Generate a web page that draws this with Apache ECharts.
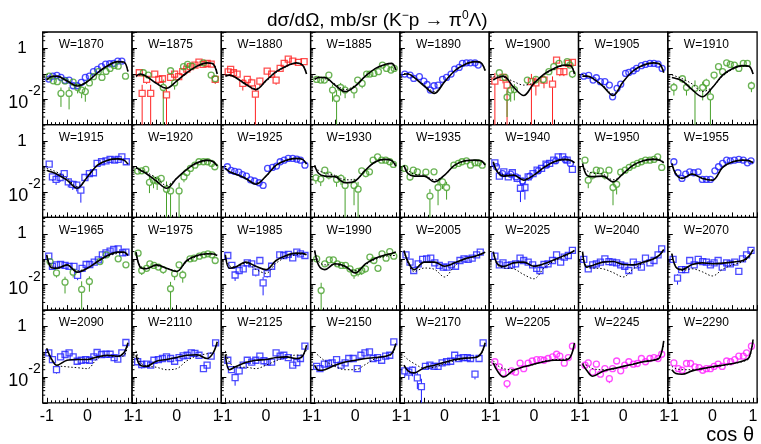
<!DOCTYPE html>
<html>
<head>
<meta charset="utf-8">
<script src="https://cdn.jsdelivr.net/npm/echarts/dist/echarts.min.js"></script>
<style>
  html, body { margin: 0; padding: 0; background: #fff; }
  #chart { width: 761px; height: 444px; }
</style>
</head>
<body>
<div id="chart"></div>
<script>
// ---------- data: [cos theta, dsigma/dOmega (mb/sr), error] ----------
// beam energies W (MeV), one per panel, row by row
const panelW = [1870, 1875, 1880, 1885, 1890, 1900, 1905, 1910,
                1915, 1920, 1925, 1930, 1935, 1940, 1950, 1955,
                1965, 1975, 1985, 1990, 2005, 2025, 2040, 2070,
                2090, 2110, 2125, 2150, 2170, 2205, 2245, 2290];

// cos theta nodes at which both model curves are tabulated
const curveCos = [-1, -0.9, -0.75, -0.5, -0.25, 0, 0.25, 0.5, 0.75, 0.9, 1];

// axis tick labels
const yTickLabels = { one: '1', base: '10', exp: '-2' };
const xTickLabels = ['-1', '0', '1'];

// ---- W = 1870 ----
const w1870blue = [[-0.95,0.062],[-0.85,0.081],[-0.75,0.087],[-0.65,0.072],[-0.55,0.055],[-0.45,0.057],[-0.35,0.034],[-0.25,0.034],[-0.15,0.046],[-0.05,0.072],[0.05,0.081],[0.15,0.121],[0.25,0.149],[0.35,0.19],[0.45,0.241],[0.55,0.249],[0.65,0.257],[0.75,0.317],[0.85,0.317]];
const w1870green = [[-0.94,0.081,0.01],[-0.84,0.053,0.012],[-0.74,0.049,0.012],[-0.65,0.017,0.012],[-0.55,0.052,0.012],[-0.45,0.017,0.013],[-0.35,0.047,0.012],[-0.24,0.029,0.012],[-0.14,0.023,0.012],[-0.05,0.02,0.012],[0.05,0.044,0.01],[0.15,0.077,0.012],[0.27,0.121,0.015],[0.36,0.072,0.015],[0.46,0.124,0.015],[0.56,0.163,0.02],[0.66,0.214,0.02],[0.76,0.2,0.02],[0.94,0.081,0.015]];
const fit1870 = [0.057,0.077,0.081,0.052,0.033,0.049,0.11,0.208,0.3,0.29,0.121];
const alt1870 = [0.065,0.08,0.08,0.055,0.036,0.05,0.11,0.2,0.29,0.28,0.13];

// ---- W = 1875 ----
const w1875red = [[-0.92,0.11,0.02],[-0.85,0.017,0.02],[-0.74,0.06,0.02],[-0.64,0.017,0.02],[-0.54,0.098,0.02],[-0.44,0.06,0.02],[-0.35,0.064,0.02],[-0.25,0.015,0.018],[-0.15,0.072,0.02],[-0.05,0.098,0.03],[0.05,0.077,0.02],[0.15,0.121,0.03],[0.25,0.154,0.03],[0.34,0.19,0.03],[0.45,0.221,0.03],[0.55,0.29,0.04],[0.65,0.234,0.04],[0.75,0.257,0.04],[0.85,0.24,0.04],[0.95,0.06,0.02]];
const w1875green = [[-0.82,0.11,0.02],[-0.7,0.089,0.02],[-0.33,0.029,0.03],[-0.15,0.132,0.03],[-0.05,0.044,0.02],[0.17,0.19,0.03],[0.27,0.234,0.03],[0.38,0.2,0.03],[0.66,0.27,0.04],[0.85,0.089,0.02],[0.95,0.064,0.015]];
const fit1875 = [0.081,0.098,0.081,0.042,0.027,0.052,0.11,0.2,0.27,0.24,0.098];
const alt1875 = [0.075,0.09,0.075,0.045,0.028,0.05,0.105,0.19,0.26,0.25,0.11];

// ---- W = 1880 ----
const w1880red = [[-0.93,0.12,0.03],[-0.87,0.149,0.03],[-0.8,0.11,0.03],[-0.71,0.098,0.03],[-0.57,0.042,0.02],[-0.46,0.06,0.02],[-0.35,0.044,0.02],[-0.26,0.016,0.02],[-0.15,0.052,0.02],[0.03,0.128,0.03],[0.14,0.098,0.03],[0.25,0.057,0.02],[0.35,0.163,0.03],[0.45,0.257,0.04],[0.55,0.38,0.05],[0.66,0.317,0.05],[0.8,0.28,0.04],[0.94,0.3,0.04]];
const fit1880 = [0.081,0.089,0.072,0.039,0.024,0.054,0.121,0.2,0.27,0.22,0.098];
const alt1880 = [0.09,0.09,0.075,0.042,0.026,0.05,0.11,0.19,0.26,0.23,0.11];

// ---- W = 1885 ----
const w1885green = [[-0.95,0.06,0.015],[-0.85,0.057,0.015],[-0.76,0.057,0.015],[-0.65,0.089,0.02],[-0.56,0.023,0.015],[-0.46,0.0107,0.012],[-0.36,0.029,0.015],[-0.25,0.023,0.012],[-0.03,0.023,0.012],[0.06,0.057,0.02],[0.17,0.042,0.015],[0.28,0.098,0.02],[0.36,0.098,0.02],[0.46,0.104,0.02],[0.57,0.121,0.02],[0.67,0.221,0.03],[0.77,0.163,0.03],[0.88,0.14,0.03],[0.96,0.163,0.03]];
const fit1885 = [0.06,0.072,0.072,0.036,0.02,0.033,0.081,0.163,0.24,0.257,0.14];
const alt1885 = [0.065,0.075,0.065,0.04,0.024,0.035,0.08,0.16,0.23,0.25,0.15];

// ---- W = 1890 ----
const w1890blue = [[-0.98,0.098],[-0.85,0.089],[-0.76,0.066],[-0.62,0.077],[-0.51,0.052],[-0.43,0.038],[-0.35,0.023],[-0.26,0.034],[-0.16,0.036],[-0.05,0.06],[0.05,0.072],[0.16,0.098],[0.25,0.154],[0.36,0.178],[0.44,0.257],[0.54,0.27],[0.64,0.27],[0.75,0.27],[0.83,0.221]];
const fit1890 = [0.098,0.098,0.072,0.033,0.017,0.049,0.132,0.234,0.3,0.27,0.132];
const alt1890 = [0.1,0.1,0.075,0.036,0.02,0.05,0.13,0.23,0.29,0.27,0.14];

// ---- W = 1900 ----
const w1900red = [[-0.96,0.052,0.055],[-0.76,0.072,0.03],[-0.66,0.036,0.04],[-0.06,0.049,0.05],[0.05,0.044,0.03],[0.25,0.057,0.03],[0.46,0.039,0.04],[0.56,0.347,0.06],[0.64,0.121,0.04],[0.74,0.121,0.04],[0.85,0.257,0.05],[0.95,0.28,0.05]];
const w1900green = [[-0.85,0.11,0.02],[-0.71,0.072,0.02],[-0.66,0.012,0.01],[-0.57,0.023,0.015],[-0.48,0.024,0.015],[-0.16,0.057,0.02],[0.05,0.06,0.02],[0.23,0.06,0.02],[0.37,0.121,0.03],[0.49,0.19,0.04],[0.62,0.257,0.04],[0.82,0.3,0.05],[0.89,0.221,0.04],[0.95,0.098,0.03]];
const fit1900 = [0.057,0.07,0.081,0.03,0.014,0.042,0.098,0.163,0.22,0.21,0.098];
const alt1900 = [0.075,0.08,0.075,0.05,0.036,0.045,0.09,0.15,0.21,0.21,0.11];

// ---- W = 1905 ----
const w1905blue = [[-0.97,0.081],[-0.85,0.087],[-0.74,0.057],[-0.66,0.07],[-0.56,0.049],[-0.45,0.049],[-0.34,0.036],[-0.26,0.0125,0.003],[-0.15,0.027],[-0.06,0.039],[0.06,0.104],[0.14,0.113],[0.25,0.132],[0.33,0.163],[0.45,0.208],[0.55,0.234],[0.66,0.257],[0.76,0.257],[0.86,0.24],[0.96,0.163]];
const fit1905 = [0.081,0.081,0.066,0.033,0.014,0.049,0.132,0.22,0.27,0.24,0.11];
const alt1905 = [0.08,0.08,0.068,0.036,0.016,0.05,0.13,0.21,0.26,0.24,0.12];

// ---- W = 1910 ----
const w1910green = [[-0.95,0.029,0.015],[-0.74,0.064,0.02],[-0.64,0.029,0.015],[-0.43,0.027,0.028],[-0.24,0.029,0.02],[-0.15,0.044,0.02],[-0.05,0.0125,0.013],[0.04,0.089,0.03],[0.15,0.19,0.04],[0.25,0.121,0.03],[0.35,0.27,0.04],[0.44,0.234,0.04],[0.54,0.221,0.04],[0.65,0.163,0.04],[0.76,0.257,0.04],[0.86,0.257,0.04],[0.96,0.034,0.015]];
const fit1910 = [0.072,0.066,0.054,0.024,0.0125,0.029,0.089,0.163,0.21,0.2,0.098];
const alt1910 = [0.09,0.08,0.065,0.04,0.02,0.03,0.08,0.15,0.2,0.2,0.1];

// ---- W = 1915 ----
const w1915blue = [[-0.94,0.124,0.015],[-0.86,0.039,0.012],[-0.77,0.031,0.012],[-0.67,0.037,0.012],[-0.57,0.053,0.012],[-0.47,0.025,0.01],[-0.36,0.02,0.008],[-0.26,0.0185,0.008],[-0.16,0.0118,0.008],[-0.06,0.037,0.01],[0.05,0.053,0.012],[0.15,0.057,0.012],[0.24,0.132,0.015],[0.35,0.154,0.015],[0.46,0.168,0.015],[0.56,0.19,0.015],[0.67,0.178,0.015],[0.76,0.19,0.015],[0.85,0.241,0.02],[0.96,0.154,0.015]];
const fit1915 = [0.072,0.062,0.05,0.029,0.014,0.039,0.113,0.178,0.2,0.178,0.124];
const alt1915 = [0.085,0.075,0.06,0.035,0.016,0.04,0.11,0.17,0.2,0.18,0.13];

// ---- W = 1920 ----
const w1920green = [[-0.96,0.066,0.015],[-0.86,0.068,0.015],[-0.76,0.077,0.015],[-0.67,0.024,0.015],[-0.57,0.029,0.015],[-0.48,0.027,0.015],[-0.38,0.034,0.012],[-0.25,0.0128,0.013],[-0.15,0.011,0.012],[0.06,0.011,0.012],[0.18,0.039,0.015],[0.25,0.058,0.015],[0.34,0.084,0.015],[0.45,0.113,0.015],[0.55,0.154,0.015],[0.66,0.154,0.015],[0.76,0.154,0.015],[0.86,0.132,0.015],[0.94,0.098,0.015]];
const fit1920 = [0.092,0.072,0.053,0.027,0.014,0.034,0.077,0.14,0.178,0.154,0.104];
const alt1920 = [0.085,0.075,0.06,0.035,0.018,0.035,0.075,0.13,0.165,0.16,0.12];

// ---- W = 1925 ----
const w1925blue = [[-0.95,0.098],[-0.86,0.07],[-0.77,0.064],[-0.67,0.06],[-0.58,0.048],[-0.48,0.042],[-0.38,0.03],[-0.28,0.027],[-0.17,0.023],[-0.07,0.018],[0.04,0.084],[0.16,0.092],[0.26,0.104],[0.35,0.154],[0.45,0.178],[0.55,0.208],[0.66,0.208],[0.76,0.195],[0.85,0.178],[0.96,0.113]];
const fit1925 = [0.085,0.062,0.05,0.034,0.02,0.042,0.113,0.178,0.208,0.19,0.124];
const alt1925 = [0.085,0.065,0.052,0.036,0.022,0.04,0.11,0.17,0.2,0.19,0.13];

// ---- W = 1930 ----
const w1930green = [[-0.97,0.036,0.015],[-0.85,0.032,0.015],[-0.75,0.072,0.015],[-0.65,0.046,0.015],[-0.46,0.031,0.015],[-0.35,0.034,0.015],[-0.25,0.018,0.02],[-0.03,0.018,0.015],[0.07,0.0129,0.012],[0.16,0.068,0.015],[0.26,0.053,0.015],[0.35,0.062,0.015],[0.44,0.178,0.02],[0.55,0.241,0.02],[0.65,0.178,0.02],[0.75,0.178,0.02],[0.85,0.154,0.02],[0.94,0.121,0.02]];
const fit1930 = [0.113,0.053,0.042,0.04,0.023,0.027,0.072,0.154,0.19,0.17,0.104];
const alt1930 = [0.09,0.07,0.055,0.045,0.03,0.03,0.07,0.15,0.19,0.17,0.12];

// ---- W = 1935 ----
const w1935green = [[-0.98,0.084,0.015],[-0.85,0.039,0.012],[-0.77,0.072,0.015],[-0.67,0.062,0.015],[-0.46,0.06,0.015],[-0.36,0.0069,0.006],[-0.26,0.062,0.015],[-0.16,0.015,0.012],[-0.05,0.025,0.012],[0.05,0.015,0.01],[0.23,0.113,0.015],[0.34,0.132,0.015],[0.43,0.154,0.015],[0.54,0.168,0.015],[0.64,0.113,0.015],[0.75,0.14,0.015],[0.83,0.14,0.015],[0.93,0.113,0.015]];
const fit1935 = [0.113,0.053,0.042,0.042,0.025,0.046,0.113,0.168,0.178,0.168,0.113];
const alt1935 = [0.1,0.07,0.05,0.045,0.03,0.045,0.11,0.16,0.17,0.17,0.13];

// ---- W = 1940 ----
const w1940blueSq = [[-0.96,0.14,0.015],[-0.85,0.042,0.01],[-0.74,0.062,0.012],[-0.63,0.039,0.01],[-0.53,0.057,0.012],[-0.41,0.034,0.01],[-0.33,0.014,0.01],[-0.22,0.015,0.01],[-0.14,0.039,0.012],[-0.02,0.053,0.012],[0.08,0.072,0.012],[0.19,0.084,0.015],[0.3,0.124,0.015],[0.39,0.132,0.015],[0.49,0.178,0.02],[0.6,0.241,0.02],[0.71,0.241,0.02],[0.82,0.178,0.02],[0.95,0.077,0.012]];
const w1940blue = [[-0.92,0.098],[-0.77,0.053],[-0.57,0.05],[-0.44,0.039],[-0.28,0.027],[-0.1,0.042],[0.11,0.068],[0.31,0.113],[0.54,0.168],[0.77,0.19],[0.9,0.132]];
const fit1940 = [0.154,0.062,0.042,0.046,0.029,0.046,0.092,0.154,0.19,0.178,0.14];
const alt1940 = [0.13,0.07,0.048,0.045,0.032,0.045,0.09,0.15,0.18,0.17,0.15];

// ---- W = 1950 ----
const w1950green = [[-0.94,0.178,0.02],[-0.86,0.029,0.015],[-0.75,0.046,0.015],[-0.66,0.072,0.015],[-0.56,0.068,0.015],[-0.45,0.046,0.015],[-0.35,0.072,0.015],[-0.25,0.015,0.012],[-0.16,0.02,0.012],[-0.06,0.06,0.015],[0.05,0.072,0.015],[0.15,0.092,0.015],[0.25,0.113,0.015],[0.35,0.132,0.015],[0.45,0.154,0.015],[0.55,0.178,0.02],[0.66,0.178,0.02],[0.76,0.19,0.02],[0.85,0.241,0.02],[0.95,0.092,0.015]];
const fit1950 = [0.132,0.046,0.04,0.042,0.025,0.053,0.113,0.168,0.19,0.178,0.14];
const alt1950 = [0.11,0.07,0.055,0.05,0.03,0.05,0.11,0.17,0.2,0.19,0.15];

// ---- W = 1955 ----
const w1955blue = [[-0.95,0.154],[-0.85,0.057],[-0.75,0.034],[-0.66,0.05],[-0.56,0.062],[-0.46,0.057],[-0.35,0.062],[-0.25,0.031],[-0.15,0.031],[-0.05,0.031],[0.06,0.068],[0.15,0.098],[0.25,0.132],[0.35,0.178],[0.44,0.168],[0.54,0.178],[0.65,0.19],[0.76,0.178],[0.86,0.14],[0.95,0.168]];
const fit1955 = [0.132,0.05,0.034,0.05,0.034,0.029,0.092,0.154,0.178,0.168,0.14];
const alt1955 = [0.13,0.055,0.036,0.05,0.035,0.03,0.09,0.15,0.175,0.17,0.15];

// ---- W = 1965 ----
const w1965blue = [[-0.95,0.132,0.015],[-0.86,0.052,0.008],[-0.76,0.06,0.008],[-0.66,0.062,0.008],[-0.55,0.057,0.008],[-0.45,0.052,0.008],[-0.33,0.052,0.008],[-0.24,0.023,0.008],[-0.13,0.044,0.008],[-0.03,0.062,0.008],[0.06,0.062,0.008],[0.17,0.077,0.01],[0.27,0.095,0.01],[0.37,0.149,0.015],[0.46,0.178,0.015],[0.56,0.208,0.02],[0.65,0.241,0.02],[0.76,0.257,0.02],[0.87,0.178,0.02],[0.95,0.19,0.02]];
const w1965green = [[-0.92,0.081,0.012],[-0.76,0.029,0.01],[-0.55,0.0125,0.008],[-0.35,0.031,0.012],[-0.14,0.0065,0.007],[0.05,0.0133,0.008],[0.31,0.081,0.015],[0.47,0.149,0.02],[0.76,0.104,0.015],[0.95,0.06,0.012]];
const fit1965 = [0.149,0.049,0.044,0.06,0.031,0.044,0.081,0.14,0.19,0.19,0.14];
const alt1965 = [0.13,0.06,0.048,0.058,0.035,0.045,0.08,0.13,0.17,0.18,0.15];

// ---- W = 1975 ----
const w1975green = [[-0.95,0.173,0.02],[-0.86,0.036,0.012],[-0.74,0.044,0.012],[-0.66,0.066,0.012],[-0.56,0.057,0.012],[-0.45,0.049,0.012],[-0.33,0.039,0.012],[-0.15,0.0069,0.006],[-0.05,0.027,0.012],[0.06,0.06,0.012],[0.15,0.024,0.012],[0.33,0.104,0.015],[0.43,0.11,0.015],[0.56,0.132,0.015],[0.67,0.149,0.015],[0.77,0.163,0.015],[0.87,0.149,0.015],[0.95,0.089,0.015]];
const fit1975 = [0.19,0.049,0.042,0.06,0.044,0.033,0.089,0.14,0.163,0.16,0.14];
const alt1975 = [0.17,0.055,0.045,0.055,0.045,0.034,0.08,0.13,0.16,0.165,0.15];

// ---- W = 1985 ----
const w1985blue = [[-0.94,0.14,0.015],[-0.84,0.057,0.01],[-0.76,0.024,0.01],[-0.66,0.036,0.01],[-0.56,0.042,0.01],[-0.46,0.072,0.01],[-0.35,0.066,0.01],[-0.25,0.031,0.01],[-0.15,0.089,0.012],[-0.07,0.0118,0.008],[0.03,0.027,0.008],[0.14,0.053,0.01],[0.34,0.149,0.015],[0.44,0.14,0.015],[0.55,0.154,0.015],[0.66,0.113,0.015],[0.76,0.19,0.02],[0.85,0.163,0.015],[0.96,0.14,0.015]];
const fit1985 = [0.15,0.044,0.049,0.077,0.053,0.039,0.089,0.14,0.173,0.17,0.149];
const alt1985 = [0.13,0.055,0.05,0.07,0.04,0.028,0.07,0.12,0.15,0.16,0.155];

// ---- W = 1990 ----
const w1990green = [[-0.95,0.104,0.015],[-0.84,0.0059,0.006],[-0.75,0.066,0.012],[-0.64,0.095,0.015],[-0.54,0.095,0.015],[-0.44,0.066,0.012],[-0.34,0.057,0.012],[-0.24,0.057,0.012],[-0.13,0.042,0.012],[-0.03,0.029,0.012],[0.07,0.033,0.012],[0.16,0.036,0.012],[0.25,0.042,0.012],[0.36,0.121,0.015],[0.46,0.089,0.015],[0.56,0.044,0.012],[0.66,0.163,0.02],[0.76,0.11,0.015],[0.85,0.2,0.02],[0.95,0.132,0.02]];
const fit1990 = [0.221,0.057,0.039,0.066,0.053,0.029,0.066,0.11,0.149,0.168,0.19];
const alt1990 = [0.2,0.08,0.06,0.06,0.05,0.035,0.06,0.1,0.13,0.14,0.14];

// ---- W = 2005 ----
const w2005blue = [[-0.95,0.149,0.01],[-0.85,0.077,0.008],[-0.76,0.036,0.006],[-0.65,0.066,0.008],[-0.54,0.098,0.008],[-0.44,0.104,0.008],[-0.34,0.11,0.008],[-0.24,0.072,0.008],[-0.13,0.057,0.006],[-0.03,0.049,0.006],[0.06,0.049,0.006],[0.17,0.06,0.006],[0.27,0.053,0.006],[0.38,0.089,0.008],[0.48,0.104,0.008],[0.58,0.098,0.008],[0.68,0.11,0.008],[0.79,0.149,0.01],[0.88,0.19,0.012]];
const fit2005 = [0.221,0.081,0.039,0.077,0.077,0.053,0.072,0.104,0.132,0.16,0.19];
const alt2005 = [0.2,0.07,0.033,0.045,0.04,0.02,0.055,0.1,0.125,0.15,0.18];

// ---- W = 2025 ----
const w2025blue = [[-0.96,0.132,0.01],[-0.85,0.06,0.006],[-0.76,0.072,0.006],[-0.66,0.057,0.006],[-0.55,0.06,0.006],[-0.45,0.066,0.006],[-0.34,0.11,0.008],[-0.25,0.089,0.008],[-0.14,0.077,0.006],[-0.03,0.06,0.006],[0.07,0.044,0.006],[0.15,0.036,0.006],[0.25,0.062,0.006],[0.35,0.066,0.006],[0.46,0.089,0.008],[0.56,0.149,0.01],[0.66,0.077,0.008],[0.75,0.121,0.01],[0.85,0.14,0.01],[0.95,0.221,0.015]];
const fit2025 = [0.2,0.066,0.052,0.072,0.077,0.053,0.066,0.095,0.14,0.178,0.221];
const alt2025 = [0.19,0.06,0.046,0.042,0.025,0.017,0.045,0.085,0.125,0.17,0.22];

// ---- W = 2040 ----
const w2040blue = [[-0.97,0.098,0.008],[-0.86,0.042,0.006],[-0.75,0.06,0.006],[-0.66,0.066,0.006],[-0.56,0.077,0.006],[-0.45,0.104,0.008],[-0.35,0.081,0.006],[-0.26,0.077,0.006],[-0.16,0.072,0.006],[-0.06,0.06,0.006],[0.04,0.053,0.006],[0.14,0.036,0.008],[0.25,0.077,0.006],[0.35,0.06,0.006],[0.45,0.049,0.006],[0.55,0.11,0.008],[0.66,0.072,0.006],[0.76,0.089,0.008],[0.86,0.149,0.01],[0.95,0.257,0.015]];
const fit2040 = [0.2,0.049,0.057,0.077,0.081,0.062,0.06,0.077,0.104,0.149,0.241];
const alt2040 = [0.17,0.05,0.045,0.042,0.03,0.02,0.042,0.07,0.1,0.14,0.23];

// ---- W = 2070 ----
const w2070blue = [[-0.97,0.098,0.008],[-0.86,0.018,0.008],[-0.76,0.039,0.008],[-0.66,0.039,0.006],[-0.56,0.089,0.008],[-0.45,0.06,0.006],[-0.35,0.098,0.008],[-0.24,0.081,0.006],[-0.15,0.077,0.006],[-0.05,0.06,0.006],[0.04,0.072,0.006],[0.14,0.089,0.008],[0.24,0.049,0.006],[0.35,0.072,0.006],[0.44,0.066,0.006],[0.55,0.077,0.006],[0.65,0.033,0.008],[0.74,0.104,0.008],[0.84,0.149,0.01],[0.95,0.221,0.015]];
const fit2070 = [0.163,0.049,0.039,0.062,0.072,0.066,0.07,0.077,0.089,0.132,0.241];
const alt2070 = [0.17,0.05,0.036,0.042,0.032,0.022,0.04,0.06,0.08,0.12,0.22];

// ---- W = 2090 ----
const w2090blue = [[-0.95,0.092,0.008],[-0.86,0.05,0.005],[-0.76,0.02,0.006],[-0.66,0.064,0.005],[-0.55,0.079,0.006],[-0.45,0.092,0.006],[-0.35,0.064,0.005],[-0.25,0.043,0.005],[-0.15,0.047,0.005],[-0.04,0.05,0.005],[0.05,0.047,0.005],[0.16,0.064,0.005],[0.24,0.095,0.006],[0.35,0.079,0.006],[0.46,0.081,0.006],[0.56,0.081,0.006],[0.66,0.06,0.005],[0.75,0.052,0.005],[0.85,0.092,0.008],[0.95,0.234,0.015]];
const fit2090 = [0.136,0.06,0.03,0.047,0.05,0.05,0.064,0.074,0.068,0.092,0.228];
const alt2090 = [0.14,0.05,0.03,0.026,0.024,0.022,0.055,0.07,0.065,0.07,0.2];

// ---- W = 2110 ----
const w2110blue = [[-0.96,0.041,0.006],[-0.86,0.032,0.01],[-0.74,0.033,0.006],[-0.64,0.03,0.006],[-0.56,0.047,0.005],[-0.45,0.05,0.005],[-0.35,0.055,0.005],[-0.25,0.064,0.005],[-0.15,0.055,0.005],[-0.05,0.043,0.005],[0.06,0.06,0.005],[0.16,0.07,0.006],[0.26,0.074,0.006],[0.36,0.092,0.006],[0.45,0.087,0.006],[0.55,0.074,0.006],[0.66,0.022,0.005],[0.75,0.03,0.005],[0.85,0.068,0.006],[0.96,0.228,0.015]];
const fit2110 = [0.074,0.03,0.027,0.043,0.05,0.06,0.074,0.077,0.055,0.092,0.25];
const alt2110 = [0.11,0.04,0.028,0.025,0.02,0.022,0.045,0.07,0.085,0.1,0.2];

// ---- W = 2125 ----
const w2125blue = [[-0.94,0.047,0.006],[-0.85,0.02,0.005],[-0.76,0.0097,0.005],[-0.66,0.018,0.005],[-0.56,0.03,0.005],[-0.46,0.047,0.005],[-0.35,0.04,0.005],[-0.25,0.047,0.005],[-0.15,0.068,0.006],[-0.05,0.045,0.005],[0.03,0.04,0.005],[0.14,0.04,0.005],[0.25,0.092,0.008],[0.35,0.068,0.006],[0.44,0.074,0.006],[0.55,0.06,0.006],[0.66,0.03,0.005],[0.76,0.038,0.005],[0.85,0.055,0.006],[0.96,0.168,0.012]];
const fit2125 = [0.08,0.02,0.026,0.038,0.047,0.05,0.06,0.064,0.055,0.068,0.184];
const alt2125 = [0.11,0.04,0.025,0.025,0.022,0.03,0.045,0.062,0.075,0.075,0.12];

// ---- W = 2150 ----
const w2150blue = [[-0.95,0.027,0.005],[-0.87,0.022,0.005],[-0.76,0.033,0.005],[-0.66,0.035,0.005],[-0.57,0.037,0.005],[-0.46,0.05,0.005],[-0.35,0.03,0.005],[-0.25,0.037,0.005],[-0.16,0.055,0.006],[-0.05,0.055,0.006],[0.05,0.022,0.005],[0.14,0.074,0.006],[0.24,0.092,0.008],[0.35,0.1,0.008],[0.44,0.055,0.006],[0.55,0.06,0.006],[0.65,0.047,0.006],[0.75,0.068,0.006],[0.85,0.074,0.006],[0.95,0.249,0.015]];
const fit2150 = [0.03,0.019,0.02,0.03,0.04,0.047,0.055,0.06,0.068,0.087,0.214];
const alt2150 = [0.1,0.07,0.045,0.027,0.02,0.02,0.032,0.055,0.068,0.08,0.17];

// ---- W = 2170 ----
const w2170blue = [[-0.98,0.018,0.008],[-0.88,0.016,0.008],[-0.79,0.019,0.008],[-0.67,0.0095,0.006],[-0.57,0.0043,0.0045],[-0.47,0.027,0.006],[-0.36,0.03,0.006],[-0.26,0.027,0.005],[-0.16,0.027,0.005],[-0.06,0.037,0.005],[0.05,0.041,0.005],[0.15,0.043,0.005],[0.25,0.074,0.006],[0.35,0.055,0.005],[0.46,0.06,0.005],[0.56,0.06,0.005],[0.64,0.055,0.005],[0.75,0.0133,0.005],[0.85,0.055,0.006],[0.95,0.228,0.015]];
const fit2170 = [0.03,0.018,0.015,0.024,0.03,0.039,0.05,0.057,0.06,0.087,0.228];
const alt2170 = [0.07,0.05,0.035,0.023,0.025,0.035,0.045,0.055,0.062,0.08,0.2];

// ---- W = 2205 ----
const w2205mag = [[-0.96,0.041,0.004],[-0.85,0.026,0.004],[-0.76,0.015,0.003],[-0.66,0.0057,0.002],[-0.55,0.018,0.003],[-0.45,0.016,0.003],[-0.34,0.036,0.004],[-0.25,0.022,0.003],[-0.14,0.036,0.004],[-0.04,0.044,0.004],[0.07,0.05,0.004],[0.17,0.05,0.004],[0.25,0.047,0.004],[0.35,0.055,0.004],[0.46,0.064,0.005],[0.56,0.081,0.006],[0.64,0.068,0.005],[0.75,0.036,0.004],[0.85,0.06,0.005],[0.95,0.168,0.012]];
const fit2205 = [0.037,0.018,0.0104,0.019,0.026,0.033,0.041,0.047,0.047,0.064,0.228];
const alt2205 = [0.045,0.03,0.022,0.02,0.026,0.032,0.043,0.05,0.052,0.065,0.2];

// ---- W = 2245 ----
const w2245mag = [[-0.94,0.03,0.004],[-0.86,0.037,0.004],[-0.75,0.016,0.003],[-0.66,0.033,0.004],[-0.56,0.0133,0.003],[-0.45,0.022,0.003],[-0.34,0.0089,0.003],[-0.26,0.022,0.003],[-0.16,0.044,0.004],[-0.06,0.018,0.003],[0.04,0.03,0.004],[0.14,0.041,0.004],[0.25,0.033,0.004],[0.35,0.035,0.004],[0.45,0.055,0.005],[0.55,0.041,0.004],[0.66,0.055,0.005],[0.76,0.06,0.005],[0.86,0.055,0.005],[0.95,0.081,0.006]];
const fit2245 = [0.033,0.019,0.011,0.0175,0.022,0.027,0.033,0.041,0.047,0.06,0.27];
const alt2245 = [0.035,0.03,0.022,0.02,0.021,0.027,0.034,0.042,0.05,0.06,0.2];

// ---- W = 2290 ----
const w2290mag = [[-0.95,0.037,0.004],[-0.84,0.022,0.003],[-0.75,0.019,0.003],[-0.64,0.035,0.004],[-0.54,0.035,0.004],[-0.43,0.026,0.003],[-0.33,0.024,0.003],[-0.24,0.019,0.003],[-0.15,0.022,0.003],[-0.05,0.022,0.003],[0.04,0.027,0.003],[0.14,0.033,0.004],[0.24,0.027,0.003],[0.35,0.044,0.004],[0.45,0.041,0.004],[0.55,0.05,0.004],[0.65,0.068,0.005],[0.76,0.068,0.005],[0.84,0.092,0.006],[0.96,0.168,0.012]];
const fit2290 = [0.02,0.0141,0.0132,0.018,0.022,0.026,0.03,0.035,0.044,0.06,0.307];
const alt2290 = [0.027,0.022,0.02,0.02,0.022,0.025,0.029,0.034,0.042,0.055,0.25];

// ---------- panel composition: which measurement sets go in each panel ----------
const panelSets = [
  [[w1870blue,'blue','circle'],[w1870green,'green','circle']],
  [[w1875red,'red','rect'],[w1875green,'green','circle']],
  [[w1880red,'red','rect']],
  [[w1885green,'green','circle']],
  [[w1890blue,'blue','circle']],
  [[w1900red,'red','rect'],[w1900green,'green','circle']],
  [[w1905blue,'blue','circle']],
  [[w1910green,'green','circle']],
  [[w1915blue,'blue','rect']],
  [[w1920green,'green','circle']],
  [[w1925blue,'blue','circle']],
  [[w1930green,'green','circle']],
  [[w1935green,'green','circle']],
  [[w1940blueSq,'blue','rect'],[w1940blue,'blue','circle']],
  [[w1950green,'green','circle']],
  [[w1955blue,'blue','circle']],
  [[w1965blue,'blue','rect'],[w1965green,'green','circle']],
  [[w1975green,'green','circle']],
  [[w1985blue,'blue','rect']],
  [[w1990green,'green','circle']],
  [[w2005blue,'blue','rect']],
  [[w2025blue,'blue','rect']],
  [[w2040blue,'blue','rect']],
  [[w2070blue,'blue','rect']],
  [[w2090blue,'blue','rect']],
  [[w2110blue,'blue','rect']],
  [[w2125blue,'blue','rect']],
  [[w2150blue,'blue','rect']],
  [[w2170blue,'blue','rect']],
  [[w2205mag,'magenta','circle']],
  [[w2245mag,'magenta','circle']],
  [[w2290mag,'magenta','circle']]
];
const panelFit = [fit1870,fit1875,fit1880,fit1885,fit1890,fit1900,fit1905,fit1910,
                  fit1915,fit1920,fit1925,fit1930,fit1935,fit1940,fit1950,fit1955,
                  fit1965,fit1975,fit1985,fit1990,fit2005,fit2025,fit2040,fit2070,
                  fit2090,fit2110,fit2125,fit2150,fit2170,fit2205,fit2245,fit2290];
const panelAlt = [alt1870,alt1875,alt1880,alt1885,alt1890,alt1900,alt1905,alt1910,
                  alt1915,alt1920,alt1925,alt1930,alt1935,alt1940,alt1950,alt1955,
                  alt1965,alt1975,alt1985,alt1990,alt2005,alt2025,alt2040,alt2070,
                  alt2090,alt2110,alt2125,alt2150,alt2170,alt2205,alt2245,alt2290];

// ---------- styling & layout ----------
const FONT = 'Liberation Sans, Arial, Helvetica, sans-serif';
const palette = { blue: '#1e1eff', green: '#46a02a', red: '#ff2222', magenta: '#ff1eff' };
const X_MIN = -1.1, X_MAX = 1.1, Y_MIN = 0.001, Y_MAX = 4.4;
const NCOL = 8;
const LEFT0 = 42.7, TOP0 = 32, CELL_W = 89.3, CELL_H = 92.7;
const MARK = 6;

// log-axis minor tick positions (2..9 within each decade)
const yMinor = [];
[0.001, 0.01, 0.1, 1].forEach(d => { for (let k = 2; k <= 9; k++) if (d * k < Y_MAX) yMinor.push(d * k); });

function errorBarRenderer(color) {
  return function (params, api) {
    const x = api.value(0), y = api.value(1), e = api.value(2);
    if (!(e > 0)) return null;
    const lo = Math.max(y - e, Y_MIN);
    const c = api.coord([x, y]);
    const top = api.coord([x, y + e]);
    const bot = api.coord([x, lo]);
    const r = MARK / 2 + 0.3;
    const kids = [];
    if (top[1] < c[1] - r) kids.push({ type: 'line', shape: { x1: c[0], y1: top[1], x2: c[0], y2: c[1] - r }, style: { stroke: color, lineWidth: 1 } });
    if (bot[1] > c[1] + r) kids.push({ type: 'line', shape: { x1: c[0], y1: c[1] + r, x2: c[0], y2: bot[1] }, style: { stroke: color, lineWidth: 1 } });
    return { type: 'group', children: kids };
  };
}

function minorTickRenderer(params, api) {
  const p = api.coord([X_MIN, api.value(1)]);
  return { type: 'line', shape: { x1: p[0], y1: p[1], x2: p[0] + 2.5, y2: p[1] }, style: { stroke: '#000', lineWidth: 1 } };
}

const grids = [], xAxes = [], yAxes = [], series = [];
const titles = [{
  text: '{a|dσ/dΩ, mb/sr (K}{s|−}{a|p → π}{s|0}{a|Λ)}',
  left: 262, top: 5,
  textStyle: { rich: {
    a: { fontSize: 19, fontWeight: 'normal', fontFamily: FONT, color: '#000' },
    s: { fontSize: 12, fontWeight: 'normal', fontFamily: FONT, color: '#000', padding: [0, 0, 10, 0] }
  } }
}, {
  text: 'cos θ', right: 2, top: 420,
  textStyle: { fontSize: 20, fontWeight: 'normal', fontFamily: FONT, color: '#000' }
}];

panelW.forEach((w, i) => {
  const col = i % NCOL, row = Math.floor(i / NCOL);
  const left = LEFT0 + col * CELL_W, top = TOP0 + row * CELL_H;
  grids.push({ left: left, top: top, width: CELL_W, height: CELL_H, show: true,
               borderColor: '#000', borderWidth: 1.3, backgroundColor: 'transparent',
               containLabel: false, outerBoundsMode: 'none' });
  titles.push({ text: 'W=' + w, left: left + 11, top: top + 2,
                textStyle: { fontSize: 12, fontWeight: 'normal', fontFamily: FONT, color: '#000' } });

  xAxes.push({
    type: 'value', gridIndex: i, min: X_MIN, max: X_MAX,
    axisLine: { show: false, onZero: false }, splitLine: { show: false },
    axisTick: { show: true, inside: true, length: 5, lineStyle: { color: '#000', width: 1 } },
    minorTick: { show: true, splitNumber: 5, length: 2.5, lineStyle: { color: '#000', width: 1 } },
    axisLabel: {
      show: row === 3, margin: 6, fontSize: 16, color: '#000', fontFamily: FONT,
      showMinLabel: true, showMaxLabel: true, hideOverlap: false,
      formatter: v => (Math.abs(v + 1) < 1e-9 ? xTickLabels[0] : Math.abs(v) < 1e-9 ? xTickLabels[1] : Math.abs(v - 1) < 1e-9 ? xTickLabels[2] : '')
    }
  });
  yAxes.push({
    type: 'log', logBase: 10, gridIndex: i, min: Y_MIN, max: Y_MAX,
    axisLine: { show: false, onZero: false }, splitLine: { show: false },
    axisTick: { show: true, inside: true, length: 5, lineStyle: { color: '#000', width: 1 } },
    axisLabel: {
      show: col === 0, margin: 2, color: '#000', fontFamily: FONT,
      showMinLabel: true, showMaxLabel: true, hideOverlap: false,
      formatter: v => (Math.abs(v - 1) < 1e-9 ? '{one|' + yTickLabels.one + '}'
                     : Math.abs(v - 0.01) < 1e-9 ? '{b|' + yTickLabels.base + '}{e|' + yTickLabels.exp + '}' : ''),
      rich: {
        one: { fontSize: 17, fontFamily: FONT, color: '#000', padding: [0, 14, 0, 0] },
        b: { fontSize: 18, fontFamily: FONT, color: '#000', padding: [8, 0, 0, 0] },
        e: { fontSize: 14, fontFamily: FONT, color: '#000', padding: [0, 0, 16, 0] }
      }
    }
  });

  // minor ticks of the log axis
  series.push({ type: 'custom', xAxisIndex: i, yAxisIndex: i, silent: true, z: 1,
                data: yMinor.map(v => [X_MIN, v]), renderItem: minorTickRenderer });

  // measurements: error bars + open markers
  panelSets[i].forEach(([pts, colorKey, sym]) => {
    const color = palette[colorKey];
    const data = pts.map(p => [p[0], p[1], p.length > 2 ? p[2] : 0]);
    series.push({ type: 'custom', xAxisIndex: i, yAxisIndex: i, silent: true, z: 2,
                  data: data, renderItem: errorBarRenderer(color) });
    series.push({ type: 'scatter', xAxisIndex: i, yAxisIndex: i, silent: true, z: 3,
                  symbol: sym, symbolSize: MARK, data: data.map(d => [d[0], d[1]]),
                  itemStyle: { color: 'rgba(255,255,255,0)', borderColor: color, borderWidth: 1.3 } });
  });

  // model curves: solid and dotted
  series.push({ type: 'line', xAxisIndex: i, yAxisIndex: i, silent: true, z: 4,
                showSymbol: false, smooth: 0.35, clip: true,
                data: curveCos.map((c, k) => [c, panelFit[i][k]]),
                lineStyle: { color: '#000', width: 1.6 } });
  series.push({ type: 'line', xAxisIndex: i, yAxisIndex: i, silent: true, z: 4,
                showSymbol: false, smooth: 0.35, clip: true,
                data: curveCos.map((c, k) => [c, panelAlt[i][k]]),
                lineStyle: { color: '#000', width: 1, type: [1.5, 2] } });
});

const chart = echarts.init(document.getElementById('chart'), null, { renderer: 'canvas' });
chart.setOption({
  animation: false,
  backgroundColor: '#fff',
  title: titles,
  grid: grids,
  xAxis: xAxes,
  yAxis: yAxes,
  series: series
});
</script>
</body>
</html>
